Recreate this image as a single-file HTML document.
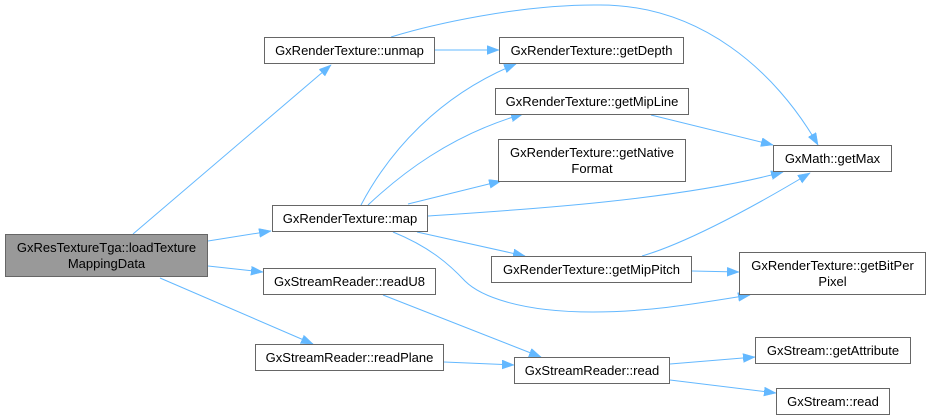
<!DOCTYPE html>
<html><head><meta charset="utf-8"><style>
html,body{margin:0;padding:0;background:#fff;}
svg{display:block;}
text{font-family:"Liberation Sans",Arial,sans-serif;font-size:13px;fill:#000;text-anchor:middle;}
.n{fill:#fff;stroke:#666;stroke-width:1;}
.e{fill:none;stroke:#63b8ff;stroke-width:1;}
</style></head><body>
<svg width="931" height="420" viewBox="0 0 931 420" xmlns="http://www.w3.org/2000/svg">
<defs>
<marker id="a" markerUnits="userSpaceOnUse" markerWidth="14" markerHeight="11" refX="12" refY="4.5" orient="auto">
<path d="M0,0 L12,4.5 L0,9 z" fill="#63b8ff" stroke="#63b8ff" stroke-width="0.5"/>
</marker>
</defs>
<g marker-end="url(#a)">
<path class="e" d="M133,234 L331,65"/>
<path class="e" d="M208,241 L271,231"/>
<path class="e" d="M208,266 L263,272"/>
<path class="e" d="M160,278 L313,344"/>
<path class="e" d="M435,50 L499,50"/>
<path class="e" d="M391,37 C430,25 520,4 600,5 C700,5 775,70 818,145"/>
<path class="e" d="M361,205 C390,150 440,95 516,64"/>
<path class="e" d="M368,205 C400,175 450,135 523,114"/>
<path class="e" d="M408,204 L501,181"/>
<path class="e" d="M428,216 C520,210 680,200 783,172"/>
<path class="e" d="M417,232 L525,256"/>
<path class="e" d="M393,232 C430,247 450,265 465,281 C480,296 520,312 593,312 C650,312 700,303 750,295"/>
<path class="e" d="M651,115 L773,145"/>
<path class="e" d="M642,256 C680,245 740,215 810,173"/>
<path class="e" d="M692,271 L739,272"/>
<path class="e" d="M383,295 L541,357"/>
<path class="e" d="M444,362 L514,365"/>
<path class="e" d="M670,364 L755,357"/>
<path class="e" d="M670,380 L776,393"/>
</g>

<rect x="5.5" y="234.5" width="202" height="42" fill="#999" stroke="#666"/>
<text x="106.5" y="252">GxResTextureTga::loadTexture</text>
<text x="106.5" y="268">MappingData</text>

<rect class="n" x="264.5" y="37.5" width="170" height="26"/>
<text x="349.5" y="55">GxRenderTexture::unmap</text>

<rect class="n" x="272.5" y="205.5" width="155" height="26"/>
<text x="350" y="223">GxRenderTexture::map</text>

<rect class="n" x="263.5" y="268.5" width="172" height="26"/>
<text x="349.5" y="286">GxStreamReader::readU8</text>

<rect class="n" x="255.5" y="344.5" width="188" height="26"/>
<text x="349.5" y="362">GxStreamReader::readPlane</text>

<rect class="n" x="499.5" y="37.5" width="184" height="26"/>
<text x="591.5" y="55">GxRenderTexture::getDepth</text>

<rect class="n" x="495.5" y="88.5" width="193" height="26"/>
<text x="592" y="106">GxRenderTexture::getMipLine</text>

<rect class="n" x="498.5" y="139.5" width="187" height="42"/>
<text x="592" y="157">GxRenderTexture::getNative</text>
<text x="592" y="173">Format</text>

<rect class="n" x="773.5" y="145.5" width="118" height="26"/>
<text x="832.5" y="163">GxMath::getMax</text>

<rect class="n" x="491.5" y="256.5" width="200" height="26"/>
<text x="591.5" y="274">GxRenderTexture::getMipPitch</text>

<rect class="n" x="739.5" y="252.5" width="186" height="42"/>
<text x="832.5" y="270">GxRenderTexture::getBitPer</text>
<text x="832.5" y="286">Pixel</text>

<rect class="n" x="514.5" y="357.5" width="155" height="26"/>
<text x="592" y="375">GxStreamReader::read</text>

<rect class="n" x="755.5" y="337.5" width="155" height="26"/>
<text x="833" y="355">GxStream::getAttribute</text>

<rect class="n" x="776.5" y="388.5" width="113" height="26"/>
<text x="833" y="406">GxStream::read</text>
</svg>
</body></html>
